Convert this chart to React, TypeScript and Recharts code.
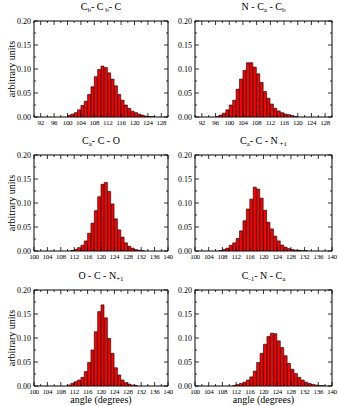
import React from 'react';
import { BarChart, Bar, XAxis, YAxis, ReferenceArea } from 'recharts';

const serif = '"Liberation Serif", "DejaVu Serif", serif';

// bin start angle (deg) and normalised count
const cbCbCAngles = [100, 101, 102, 103, 104, 105, 106, 107, 108, 109, 110, 111, 112, 113, 114, 115, 116, 117, 118, 119, 120, 121, 122, 123, 124, 125];
const cbCbCValues = [0.0035, 0.006, 0.009, 0.015, 0.024, 0.033, 0.047, 0.063, 0.084, 0.099, 0.106, 0.103, 0.092, 0.079, 0.065, 0.047, 0.035, 0.025, 0.018, 0.012, 0.009, 0.006, 0.004, 0.002, 0.001, 0.0005];

const nCaCbAngles = [96, 97, 98, 99, 100, 101, 102, 103, 104, 105, 106, 107, 108, 109, 110, 111, 112, 113, 114, 115, 116, 117, 118, 119];
const nCaCbValues = [0.001, 0.004, 0.008, 0.015, 0.025, 0.035, 0.058, 0.079, 0.097, 0.113, 0.113, 0.104, 0.09, 0.072, 0.053, 0.039, 0.027, 0.018, 0.0125, 0.009, 0.006, 0.005, 0.003, 0.001];

const caCOAngles = [111, 112, 113, 114, 115, 116, 117, 118, 119, 120, 121, 122, 123, 124, 125, 126, 127, 128, 129, 130, 131, 132];
const caCOValues = [0.001, 0.0035, 0.007, 0.012, 0.021, 0.037, 0.058, 0.084, 0.113, 0.139, 0.143, 0.124, 0.098, 0.067, 0.044, 0.029, 0.017, 0.01, 0.006, 0.003, 0.0015, 0.0005];

const caCNAngles = [107, 108, 109, 110, 111, 112, 113, 114, 115, 116, 117, 118, 119, 120, 121, 122, 123, 124, 125, 126, 127, 128, 129, 130, 131, 132];
const caCNValues = [0.001, 0.0035, 0.006, 0.012, 0.017, 0.026, 0.042, 0.063, 0.0875, 0.108, 0.133, 0.129, 0.11, 0.085, 0.06, 0.046, 0.031, 0.021, 0.0125, 0.008, 0.005, 0.003, 0.002, 0.001, 0.0005, 0.0005];

const oCNAngles = [110, 111, 112, 113, 114, 115, 116, 117, 118, 119, 120, 121, 122, 123, 124, 125, 126, 127, 128, 129, 130];
const oCNValues = [0.002, 0.0055, 0.009, 0.0125, 0.018, 0.03, 0.049, 0.075, 0.113, 0.155, 0.169, 0.142, 0.099, 0.068, 0.038, 0.023, 0.0125, 0.007, 0.004, 0.002, 0.001];

const cNCaAngles = [111, 112, 113, 114, 115, 116, 117, 118, 119, 120, 121, 122, 123, 124, 125, 126, 127, 128, 129, 130, 131, 132, 133, 134, 135, 136, 137];
const cNCaValues = [0.001, 0.003, 0.0055, 0.008, 0.0125, 0.019, 0.031, 0.049, 0.068, 0.087, 0.103, 0.11, 0.109, 0.094, 0.08, 0.063, 0.047, 0.035, 0.026, 0.018, 0.0125, 0.008, 0.0055, 0.0035, 0.002, 0.001, 0.0005];

// axes
const ticksTop = [90, 92, 94, 96, 98, 100, 102, 104, 106, 108, 110, 112, 114, 116, 118, 120, 122, 124, 126, 128, 130];
const labelsTop = [92, 96, 100, 104, 108, 112, 116, 120, 124, 128];
const ticksLow = [100, 102, 104, 106, 108, 110, 112, 114, 116, 118, 120, 122, 124, 126, 128, 130, 132, 134, 136, 138, 140];
const labelsLow = [100, 104, 108, 112, 116, 120, 124, 128, 132, 136, 140];
const yTicks = [0, 0.025, 0.05, 0.075, 0.1, 0.125, 0.15, 0.175, 0.2];
const yLabels = ['0.00', '0.05', '0.10', '0.15', '0.20'];

const PLOT_H = 96;

function xTick(labels: number[]) {
  return (p: any) => {
    const v = p.payload.value;
    const major = labels.includes(v);
    const len = major ? 4 : 2;
    return (
      <g>
        <line x1={p.x} x2={p.x} y1={p.y} y2={p.y - len} stroke="#000" strokeWidth={0.8} />
        <line x1={p.x} x2={p.x} y1={p.y - PLOT_H} y2={p.y - PLOT_H + len} stroke="#000" strokeWidth={0.8} />
        {major && (
          <text x={p.x} y={p.y + 7.5} textAnchor="middle" fontSize={7} letterSpacing={-0.3} fontFamily={serif} fill="#000">{v}</text>
        )}
      </g>
    );
  };
}

function yTick(plotWidth: number) {
  return (p: any) => {
    const v = p.payload.value;
    const idx = Math.round(v * 40);
    const major = idx % 2 === 0;
    const len = major ? 4 : 2;
    return (
      <g>
        <line x1={p.x} x2={p.x + len} y1={p.y} y2={p.y} stroke="#000" strokeWidth={0.8} />
        <line x1={p.x + plotWidth} x2={p.x + plotWidth - len} y1={p.y} y2={p.y} stroke="#000" strokeWidth={0.8} />
        {major && (
          <text x={p.x - 3} y={p.y + 2.8} textAnchor="end" fontSize={8} fontFamily={serif} fill="#000">{yLabels[idx / 2]}</text>
        )}
      </g>
    );
  };
}

interface PanelProps {
  angles: number[];
  values: number[];
  domain: [number, number];
  ticks: number[];
  labels: number[];
  left: number;
  plotLeft: number;
  plotWidth: number;
  top: number;
}

function Histogram({ angles, values, domain, ticks, labels, left, plotLeft, plotWidth, top }: PanelProps) {
  const data = angles.map((a, i) => ({ angle: a + 0.5, value: values[i] }));
  const yw = plotLeft - left;
  const barW = plotWidth / (domain[1] - domain[0]);
  return (
    <div style={{ position: 'absolute', left, top: top - 4 }}>
      <BarChart width={yw + plotWidth + 8} height={4 + PLOT_H + 14} data={data}
        margin={{ top: 4, right: 8, left: 0, bottom: 0 }} barCategoryGap={0} barGap={0}>
        <XAxis dataKey="angle" type="number" domain={domain} allowDataOverflow ticks={ticks} interval={0}
          axisLine={false} tickLine={false} tickSize={0} tickMargin={0} height={14} tick={xTick(labels)} />
        <YAxis type="number" domain={[0, 0.2]} allowDataOverflow ticks={yTicks} interval={0}
          axisLine={false} tickLine={false} tickSize={0} tickMargin={0} width={yw} tick={yTick(plotWidth)} />
        <Bar dataKey="value" fill="#ff0000" stroke="#000" strokeWidth={0.6} barSize={barW} isAnimationActive={false} />
        <ReferenceArea x1={domain[0]} x2={domain[1]} y1={0} y2={0.2} fill="none" fillOpacity={0}
          stroke="#000" strokeWidth={1} ifOverflow="visible" />
      </BarChart>
    </div>
  );
}

const sub: React.CSSProperties = { fontSize: 7, verticalAlign: '-2px', lineHeight: 0 };

function Title({ x, w, y, children }: { x: number; w: number; y: number; children: React.ReactNode }) {
  return (
    <div style={{ position: 'absolute', left: x, width: w, top: y, textAlign: 'center', fontSize: 10, lineHeight: '10px', whiteSpace: 'nowrap' }}>
      {children}
    </div>
  );
}

const LX = 34, LW = 134, RX = 195, RW = 137;
const rowTops = [21, 155, 290];

export default function App() {
  return (
    <div style={{ position: 'absolute', left: 0, top: 0, width: 338, height: 406, background: '#fff', fontFamily: serif, color: '#000', overflow: 'hidden' }}>
      <Title x={LX} w={LW} y={rowTops[0] - 19}>C<sub style={sub}>b</sub>- C<sub style={sub}> b</sub>- C</Title>
      <Title x={RX} w={RW} y={rowTops[0] - 19}>N - C<sub style={sub}>a</sub> - C<sub style={sub}>b</sub></Title>
      <Title x={LX} w={LW} y={rowTops[1] - 19}>C<sub style={sub}>a</sub>- C - O</Title>
      <Title x={RX} w={RW} y={rowTops[1] - 19}>C<sub style={sub}>a</sub>- C - N<sub style={sub}> +1</sub></Title>
      <Title x={LX} w={LW} y={rowTops[2] - 19}>O - C - N<sub style={sub}>+1</sub></Title>
      <Title x={RX} w={RW} y={rowTops[2] - 19}>C<sub style={sub}>-1</sub>- N - C<sub style={sub}>a</sub></Title>

      <Histogram angles={cbCbCAngles} values={cbCbCValues} domain={[90, 130]} ticks={ticksTop} labels={labelsTop} left={0} plotLeft={LX} plotWidth={LW} top={rowTops[0]} />
      <Histogram angles={nCaCbAngles} values={nCaCbValues} domain={[90, 130]} ticks={ticksTop} labels={labelsTop} left={170} plotLeft={RX} plotWidth={RW} top={rowTops[0]} />
      <Histogram angles={caCOAngles} values={caCOValues} domain={[100, 140]} ticks={ticksLow} labels={labelsLow} left={0} plotLeft={LX} plotWidth={LW} top={rowTops[1]} />
      <Histogram angles={caCNAngles} values={caCNValues} domain={[100, 140]} ticks={ticksLow} labels={labelsLow} left={170} plotLeft={RX} plotWidth={RW} top={rowTops[1]} />
      <Histogram angles={oCNAngles} values={oCNValues} domain={[100, 140]} ticks={ticksLow} labels={labelsLow} left={0} plotLeft={LX} plotWidth={LW} top={rowTops[2]} />
      <Histogram angles={cNCaAngles} values={cNCaValues} domain={[100, 140]} ticks={ticksLow} labels={labelsLow} left={170} plotLeft={RX} plotWidth={RW} top={rowTops[2]} />

      {rowTops.map((t) => (
        <div key={t} style={{ position: 'absolute', left: 11.5, top: t + PLOT_H / 2, transform: 'translate(-50%, -50%) rotate(-90deg)', fontSize: 10, lineHeight: '10px', whiteSpace: 'nowrap' }}>
          arbitrary units
        </div>
      ))}
      <div style={{ position: 'absolute', left: LX, width: LW, top: 395, textAlign: 'center', fontSize: 10, lineHeight: '10px' }}>angle (degrees)</div>
      <div style={{ position: 'absolute', left: RX, width: RW, top: 395, textAlign: 'center', fontSize: 10, lineHeight: '10px' }}>angle (degrees)</div>
    </div>
  );
}
